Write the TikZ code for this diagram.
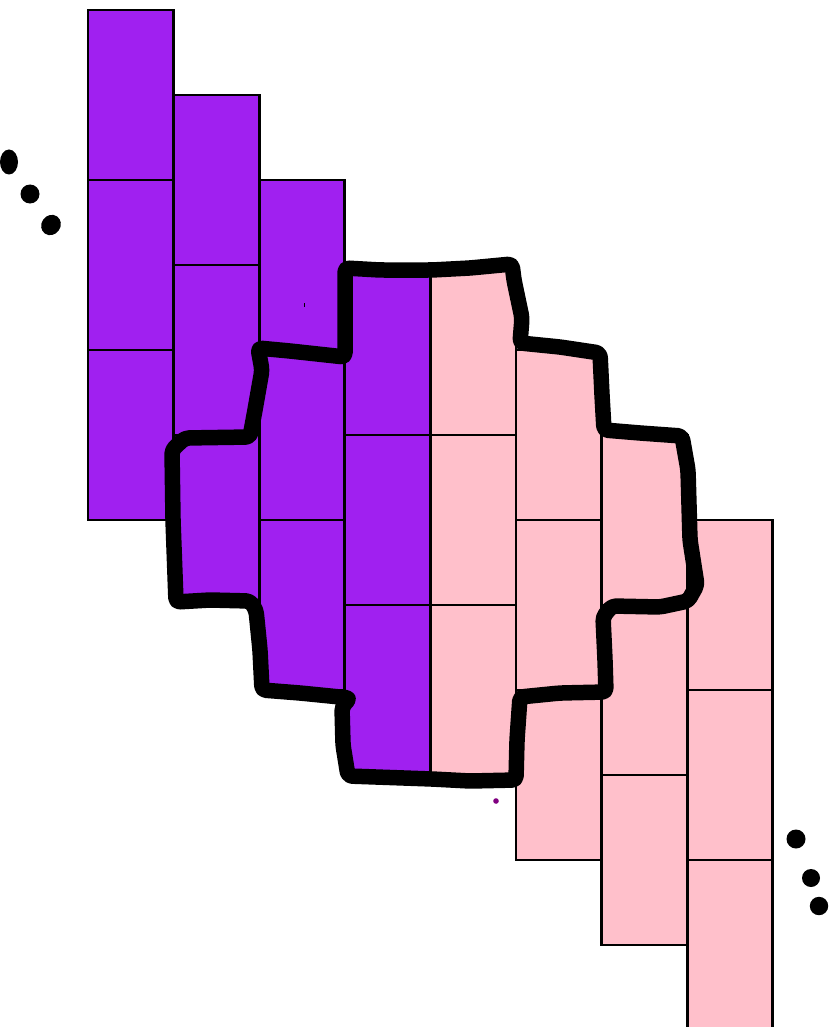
\documentclass[tikz,border=0pt]{standalone}
\definecolor{cpurple}{RGB}{160,32,240}
\definecolor{cpink}{RGB}{255,192,203}
\definecolor{dotpurple}{RGB}{128,0,128}
\begin{document}
\begin{tikzpicture}[x=1pt,y=-1pt,
  purplecell/.style={fill=cpurple,draw=black,line width=2.8pt},
  pinkcell/.style={fill=cpink,draw=black,line width=2.8pt},
  outline/.style={draw=black,line width=15.5pt,line join=round,line cap=round,rounded corners=4pt},
  blob/.style={fill=black}]
\useasboundingbox (0,0) rectangle (836,1027);
\begin{scope}
\clip (0,0) rectangle (836,1027);
% purple columns
\foreach \k in {0,...,3}{
  \foreach \r in {0,1,2}{
    \draw[purplecell] ({88+85.6*\k},{10+85*\k+170*\r}) rectangle +(85.6,170);
  }
}
% pink columns
\foreach \k in {4,...,7}{
  \foreach \r in {0,1,2}{
    \draw[pinkcell] ({88+85.6*\k},{10+85*(\k-1)+170*\r}) rectangle +(85.6,170);
  }
}
\end{scope}
% thick hand-drawn outline
\draw[outline] (345,268) -- (380,270) -- (432,270) -- (470,268) -- (512,264)
  -- (514,280) -- (522,318) -- (520,343) -- (560,347) -- (600,353)
  -- (602,395) -- (604,430) -- (640,433) -- (682,436) -- (688,470)
  -- (690,540) -- (697,585) -- (688,601) -- (660,607) -- (612,606)
  -- (603,617) -- (605,660) -- (606,692) -- (560,693) -- (520,697)
  -- (517,740) -- (516,780) -- (470,781) -- (432,779) -- (348,776)
  -- (343,745) -- (342,707) -- (350,698) -- (300,693) -- (262,690)
  -- (260,650) -- (256,610) -- (250,601) -- (210,600) -- (176,602)
  -- (173,520) -- (172,450) -- (185,438) -- (250,437) -- (255,410)
  -- (262,370) -- (258,348) -- (290,351) -- (345,357) -- (345,320)
  -- cycle;
% ellipsis dots
\fill[blob] (9,162) ellipse [x radius=9, y radius=12.5];
\fill[blob] (30,194) circle (9.5);
\fill[blob] (51,225) ellipse [x radius=9.5, y radius=10.5, rotate=-35];
\fill[blob] (796,839) circle (9.5);
\fill[blob] (811,878) circle (9);
\fill[blob] (819,906) circle (9.2);
% tiny marks
\fill[dotpurple] (496,801) circle (2.8);
\fill[black] (303.5,302.5) rectangle (305,307);
\end{tikzpicture}
\end{document}
